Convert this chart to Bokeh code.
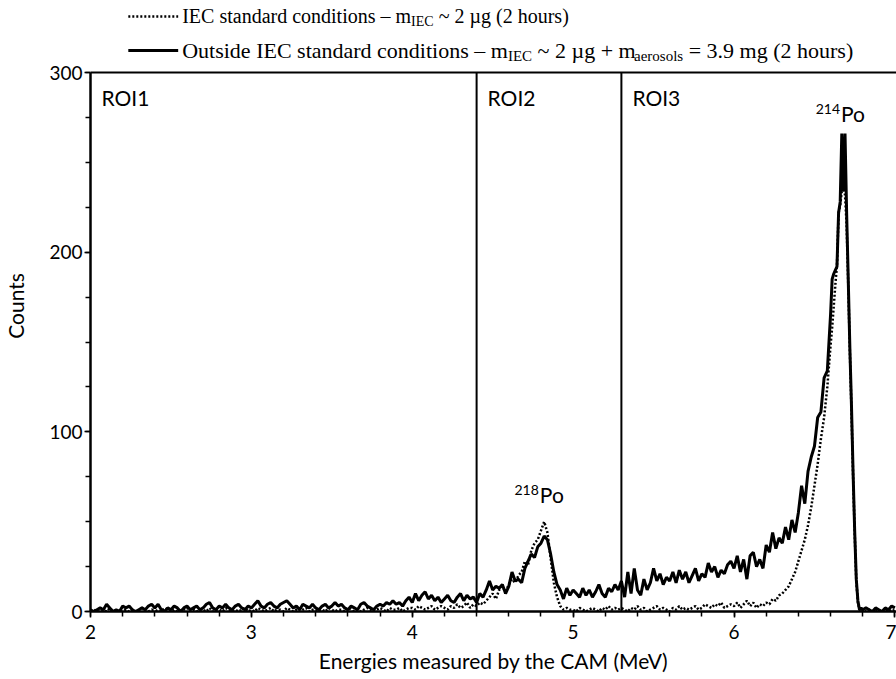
import numpy as np
from bokeh.plotting import figure
from bokeh.models import Label, Span, Arrow, Range1d, FixedTicker
from bokeh.embed import file_html
from bokeh.resources import INLINE

# ---- energy grid (MeV): 0.02 MeV bins, finer 0.01 MeV bins across the 214Po peak
energy_low = np.round(np.arange(2.00, 6.601, 0.02), 2)    # 2.00 .. 6.60
energy_peak = np.round(np.arange(6.61, 6.801, 0.01), 2)   # 6.61 .. 6.80
energy_tail = np.round(np.arange(6.82, 7.001, 0.02), 2)   # 6.82 .. 7.00

# ---- Outside IEC standard conditions (solid)
out_2_3 = [1, 0, 1, 2, 1, 4, 2, 0, 1, 0, 3, 2, 3, 1, 0, 1, 2, 1, 3, 4,
           2, 4, 1, 0, 2, 1, 3, 2, 0, 2, 3, 1, 2, 3, 1, 2, 4, 5, 2, 1,
           3, 2, 4, 2, 1, 3, 4, 2, 1, 3]
out_3_4 = [2, 4, 6, 3, 2, 4, 5, 3, 2, 4, 5, 6, 4, 2, 3, 1, 4, 3, 2, 4,
           2, 1, 3, 4, 2, 3, 5, 3, 4, 2, 1, 3, 2, 1, 4, 5, 3, 2, 1, 3,
           4, 3, 5, 4, 6, 4, 5, 3, 6, 8]
out_4_44 = [5, 10, 6, 9, 11, 7, 9, 6, 8, 5, 7, 9, 6, 5, 8, 10, 6, 9, 7, 8]
out_roi2 = [5, 10, 8, 12, 17, 12, 14, 13, 15, 10, 14, 22, 17, 18, 16, 24, 28, 32, 30, 36,
            38, 42, 40, 32, 22, 15, 12, 7, 13, 9, 12, 10, 8, 13, 9, 12, 8, 11, 15, 10,
            8, 13, 11, 15, 12]
out_roi3 = [17, 8, 22, 10, 24, 12, 9, 18, 12, 16, 24, 17, 21, 15, 19, 17, 22, 16, 23, 18,
            22, 16, 20, 24, 17, 21, 19, 27, 22, 25, 19, 23, 21, 26, 28,
            24, 31, 22, 29, 18, 31, 33, 25, 29, 24, 37, 33, 44, 35, 41, 38, 47, 40, 51, 44,
            55, 70, 60, 78, 86, 92, 108, 111, 130, 134, 165]
out_peak = [185, 188, 190, 192, 222, 228, 266, 234, 266, 222,
            185, 147, 115, 78, 45, 18, 6, 1, 2, 1]
out_tail = [2, 1, 0, 2, 1, 0, 2, 1, 3, 2]

# ---- IEC standard conditions (dotted)
iec_2_3 = [0, 1, 0, 0, 1, 0, 2, 0, 1, 0, 0, 1, 0, 1, 0, 0, 2, 1, 0, 1,
           1, 0, 0, 2, 1, 0, 1, 0, 0, 1, 2, 0, 1, 0, 1, 1, 0, 2, 0, 1,
           1, 0, 2, 1, 0, 1, 0, 1, 2, 0]
iec_3_4 = [1, 0, 2, 1, 0, 1, 2, 0, 1, 1, 0, 2, 1, 0, 1, 0, 1, 2, 0, 1,
           1, 0, 1, 0, 2, 1, 0, 1, 1, 0, 2, 1, 0, 1, 0, 1, 2, 1, 0, 1,
           2, 1, 0, 2, 1, 1, 2, 0, 1, 2]
iec_4_44 = [2, 1, 3, 2, 1, 2, 3, 1, 2, 3, 2, 1, 3, 2, 4, 2, 3, 5, 2, 4]
iec_roi2 = [3, 5, 4, 6, 8, 10, 7, 12, 14, 11, 15, 18, 16, 20, 22, 28, 26, 34, 38, 40,
            45, 50, 44, 30, 16, 8, 3, 1, 2, 1, 1, 0, 2, 1, 0, 1, 2, 1, 0, 2,
            1, 3, 1, 2, 1]
iec_roi3 = [2, 1, 0, 2, 1, 3, 1, 2, 0, 1, 2, 3, 1, 2, 1, 0, 2, 1, 3, 1,
            2, 1, 2, 3, 1, 2, 4, 3, 2, 4, 3, 5, 2, 3, 4,
            3, 5, 2, 4, 6, 3, 5, 2, 4, 3, 5, 4, 7, 6, 9, 10, 12, 14, 18, 22,
            28, 34, 40, 48, 58, 70, 82, 96, 108, 125, 148]
iec_peak = [158, 170, 182, 193, 222, 226, 234, 236, 232, 215,
            182, 145, 112, 76, 44, 17, 5, 1, 0, 1]
iec_tail = [0, 1, 0, 1, 0, 1, 0, 1, 0, 1]

# ---- axes / annotations
x_ticks = [2, 3, 4, 5, 6, 7]
y_ticks = [0, 100, 200, 300]
roi_bounds = [4.4, 5.3]
roi_starts = [2.0, 4.4, 5.3]
roi_names = ["ROI1", "ROI2", "ROI3"]
y_top = 300

energy = np.concatenate([energy_low, energy_peak, energy_tail])
counts_outside = np.array(out_2_3 + out_3_4 + out_4_44 + out_roi2 + out_roi3 + out_peak + out_tail)
counts_iec = np.array(iec_2_3 + iec_3_4 + iec_4_44 + iec_roi2 + iec_roi3 + iec_peak + iec_tail)
assert len(energy) == len(counts_outside) == len(counts_iec)

SANS = "Lato"
SERIF = "Liberation Serif"

p = figure(width=896, height=679, x_range=Range1d(2, 7.01), y_range=Range1d(0, 340.1),
           output_backend="svg", toolbar_location=None,
           min_border_left=87, min_border_right=0, min_border_top=0, min_border_bottom=68)
p.outline_line_color = None
p.xgrid.visible = False
p.ygrid.visible = False

p.xaxis.ticker = FixedTicker(ticks=x_ticks, minor_ticks=list(np.round(np.arange(2, 7.01, 0.2), 2)))
p.yaxis.ticker = FixedTicker(ticks=y_ticks, minor_ticks=list(range(0, 301, 25)))
p.yaxis.bounds = (0, y_top)
for ax in (p.xaxis[0], p.yaxis[0]):
    ax.axis_line_width = 2.5
    ax.axis_line_color = "black"
    ax.major_tick_line_width = 1.5
    ax.minor_tick_line_width = 1.5
    ax.major_tick_in = 0
    ax.major_tick_out = 6
    ax.minor_tick_in = 0
    ax.minor_tick_out = 5
    ax.major_label_text_font = SANS
    ax.major_label_text_font_size = "19px"
    ax.major_label_text_color = "black"
    ax.axis_label_text_font = SANS
    ax.axis_label_text_font_size = "21px"
    ax.axis_label_text_font_style = "normal"
    ax.axis_label_text_color = "black"
p.xaxis.axis_label = "Energies measured by the CAM (MeV)"
p.yaxis.axis_label = "Counts"
p.xaxis.major_label_standoff = 7
p.xaxis.axis_label_standoff = 6
p.yaxis.major_label_standoff = 2
p.yaxis.axis_label_standoff = 18

# frame top line and ROI separators
p.add_layout(Span(location=y_top, dimension="width", line_color="black", line_width=2))
p.segment(x0=roi_bounds, y0=[0] * len(roi_bounds), x1=roi_bounds, y1=[y_top] * len(roi_bounds),
          line_color="black", line_width=2)

# spectra
p.line(energy, counts_outside, line_color="black", line_width=3)
p.line(energy, counts_iec, line_color="black", line_width=2.5, line_dash="2 2")

# ROI labels
for xs, name in zip(roi_starts, roi_names):
    p.add_layout(Label(x=xs, y=286, x_offset=11, text=name, text_font=SANS, text_color="black",
                       text_font_size="21px", text_baseline="middle", text_align="left"))

# isotope labels
def isotope(x, y, mass):
    p.add_layout(Label(x=x, y=y, x_offset=-1, y_offset=5, text=mass, text_font=SANS,
                       text_color="black", text_font_size="14px",
                       text_baseline="middle", text_align="right"))
    p.add_layout(Label(x=x, y=y, x_offset=0, text="Po", text_font=SANS, text_color="black",
                       text_font_size="21px", text_baseline="middle", text_align="left"))

isotope(4.793, 65, "218")
isotope(6.665, 277, "214")

# legend (top of the frame, above the data)
def leg_text(y, x_off, txt, size, sub=False):
    p.add_layout(Label(x=2.57, y=y, x_offset=x_off, y_offset=(-5 if sub else 0), text=txt,
                       text_font=SERIF, text_font_size="%dpx" % size,
                       text_baseline="middle", text_align="left", text_color="black"))

y1, y2 = 331.2, 312.2
p.add_layout(Arrow(end=None, x_start=2.235, y_start=y1, x_end=2.545, y_end=y1,
                   line_color="black", line_width=2.5, line_dash="2 2"))
p.add_layout(Arrow(end=None, x_start=2.235, y_start=y2, x_end=2.545, y_end=y2,
                   line_color="black", line_width=3))
leg_text(y1, 0, "IEC standard conditions \u2013 m", 20)
leg_text(y1, 228.9, "IEC", 14, sub=True)
leg_text(y1, 256.5, "~ 2 \u00b5g (2 hours)", 20)
leg_text(y2, 0, "Outside IEC standard conditions \u2013 m", 22)
leg_text(y2, 325.7, "IEC", 15, sub=True)
leg_text(y2, 355.4, "~ 2 \u00b5g + m", 22)
leg_text(y2, 451.8, "aerosols", 15, sub=True)
leg_text(y2, 506.5, "= 3.9 mg (2 hours)", 22)

open("out.html", "w").write(file_html(p, INLINE))
